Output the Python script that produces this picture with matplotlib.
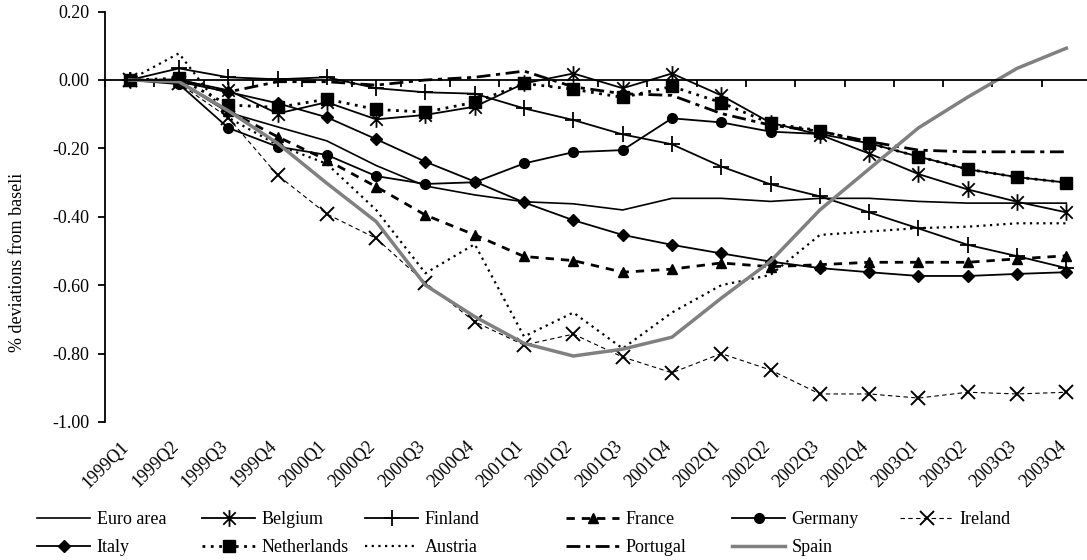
import numpy as np
import matplotlib.pyplot as plt
from matplotlib.path import Path
from matplotlib.transforms import blended_transform_factory, ScaledTranslation

plt.rcParams['font.family'] = ['Liberation Serif', 'DejaVu Serif']

quarters = ["1999Q1", "1999Q2", "1999Q3", "1999Q4", "2000Q1", "2000Q2", "2000Q3", "2000Q4",
            "2001Q1", "2001Q2", "2001Q3", "2001Q4", "2002Q1", "2002Q2", "2002Q3", "2002Q4",
            "2003Q1", "2003Q2", "2003Q3", "2003Q4"]

euro_area = [0, -0.005, -0.095, -0.137, -0.178, -0.25, -0.31, -0.336, -0.356, -0.362,
             -0.38, -0.346, -0.346, -0.355, -0.346, -0.346, -0.355, -0.36, -0.36, -0.36]
belgium = [0, 0.0, -0.03, -0.098, -0.065, -0.115, -0.102, -0.078, -0.01, 0.019,
           -0.024, 0.019, -0.045, -0.125, -0.16, -0.215, -0.275, -0.32, -0.356, -0.387]
finland = [0, 0.034, 0.008, 0.002, 0.008, -0.024, -0.036, -0.04, -0.083, -0.117,
           -0.159, -0.188, -0.253, -0.305, -0.34, -0.387, -0.434, -0.482, -0.515, -0.55]
france = [0, -0.005, -0.09, -0.166, -0.234, -0.312, -0.395, -0.453, -0.516, -0.528,
          -0.562, -0.553, -0.535, -0.546, -0.54, -0.533, -0.533, -0.533, -0.523, -0.514]
germany = [0, -0.012, -0.14, -0.195, -0.219, -0.281, -0.304, -0.299, -0.244, -0.211,
           -0.205, -0.112, -0.124, -0.151, -0.158, -0.185, -0.224, -0.261, -0.284, -0.30]
ireland = [0, -0.01, -0.11, -0.278, -0.392, -0.463, -0.593, -0.707, -0.775, -0.743,
           -0.81, -0.856, -0.80, -0.848, -0.918, -0.918, -0.93, -0.913, -0.918, -0.913]
italy = [0, -0.005, -0.035, -0.068, -0.109, -0.173, -0.239, -0.297, -0.358, -0.41,
         -0.453, -0.482, -0.507, -0.531, -0.55, -0.562, -0.573, -0.573, -0.567, -0.562]
netherlands = [0, 0.005, -0.073, -0.08, -0.056, -0.086, -0.094, -0.065, -0.01, -0.027,
               -0.051, -0.019, -0.066, -0.127, -0.148, -0.185, -0.224, -0.261, -0.284, -0.30]
austria = [0, 0.078, -0.11, -0.19, -0.245, -0.38, -0.565, -0.48, -0.75, -0.68,
           -0.785, -0.68, -0.60, -0.57, -0.453, -0.443, -0.433, -0.429, -0.419, -0.419]
portugal = [0, 0.0, -0.035, -0.005, -0.005, -0.015, 0.0, 0.008, 0.026, -0.02,
            -0.04, -0.045, -0.098, -0.132, -0.15, -0.18, -0.205, -0.21, -0.21, -0.21]
spain = [0, -0.005, -0.09, -0.185, -0.302, -0.414, -0.60, -0.692, -0.77, -0.807,
         -0.787, -0.752, -0.638, -0.53, -0.38, -0.26, -0.14, -0.05, 0.034, 0.093]

yticks = [-1.0, -0.8, -0.6, -0.4, -0.2, 0.0, 0.2]

# excel style star: vertical bar plus an x
star = Path([(0, -1), (0, 1), (-0.75, -0.75), (0.75, 0.75), (-0.75, 0.75), (0.75, -0.75)],
            [Path.MOVETO, Path.LINETO] * 3)

W, H = 1087, 560
fig = plt.figure(figsize=(W / 100, H / 100), dpi=100)
ax = fig.add_axes([105 / W, 1 - 422 / H, (1091 - 105) / W, (422 - 11.6) / H])

x = np.arange(len(quarters))
lines = {}
lines["Euro area"], = ax.plot(x, euro_area, color='k', lw=1.2)
lines["Belgium"], = ax.plot(x, belgium, color='k', lw=1.3, marker=star, ms=12, mfc='none', mec='k', mew=1.3)
lines["Finland"], = ax.plot(x, finland, color='k', lw=1.3, marker='+', ms=12, mew=1.3)
lines["France"], = ax.plot(x, france, color='k', lw=2, ls=(0, (3, 2.5)), marker='^', ms=6.5)
lines["Germany"], = ax.plot(x, germany, color='k', lw=1.3, marker='o', ms=7)
lines["Ireland"], = ax.plot(x, ireland, color='k', lw=0.8, ls=(0, (4, 3)), marker='x', ms=10, mew=1.4)
lines["Italy"], = ax.plot(x, italy, color='k', lw=1.3, marker='D', ms=6.5)
lines["Netherlands"], = ax.plot(x, netherlands, color='k', lw=2, ls=(0, (1, 2)), marker='s', ms=8)
lines["Austria"], = ax.plot(x, austria, color='k', lw=1.6, ls=(0, (1, 2)))
lines["Portugal"], = ax.plot(x, portugal, color='k', lw=2, ls=(0, (5, 2, 1.5, 2)))
lines["Spain"], = ax.plot(x, spain, color='#808080', lw=2.5)

ax.set_xlim(-0.5, len(quarters) - 0.5)
ax.set_ylim(-1.0, 0.2)

for s in ['top', 'right']:
    ax.spines[s].set_visible(False)
ax.spines['left'].set_linewidth(1.3)
ax.spines['bottom'].set_position(('data', 0))
ax.spines['bottom'].set_linewidth(1.3)

ax.set_yticks(yticks)
ax.set_yticklabels(["0.00" if abs(v) < 1e-9 else f"{v:.2f}" for v in yticks], fontsize=13)
ax.tick_params(axis='y', direction='out', length=5, width=1.3, pad=6)

ax.set_xticks(x)
ax.set_xticklabels([])
ax.set_xticks(np.arange(len(quarters) + 1) - 0.5, minor=True)
ax.tick_params(axis='x', which='major', length=0)
ax.tick_params(axis='x', which='minor', direction='out', length=5, width=1.3)

tr = blended_transform_factory(ax.transData, ax.transAxes) + \
    ScaledTranslation(-9 / 100, -16 / 100, fig.dpi_scale_trans)
for i, q in enumerate(quarters):
    ax.text(i, 0, q, transform=tr, rotation=45, ha='right', va='top',
            rotation_mode='anchor', fontsize=13)

ax.set_ylabel("% deviations from baseli", fontsize=13)
ax.yaxis.set_label_coords(-79 / (1091 - 105), (422 - 262) / (422 - 11.6))

legend_cols = [["Euro area", "Italy"], ["Belgium", "Netherlands"], ["Finland", "Austria"],
               ["France", "Portugal"], ["Germany", "Spain"], ["Ireland"]]
legend_x = [37, 202, 365, 566, 732, 900]
for names, lx in zip(legend_cols, legend_x):
    fig.legend([lines[n] for n in names], names, loc='upper left',
               bbox_to_anchor=(lx / W, 1 - 511 / H), frameon=False, fontsize=13,
               borderpad=0, borderaxespad=0, handlelength=2.95, handletextpad=0.35,
               labelspacing=0.62, markerscale=1.0)

fig.savefig("out.png", dpi=100)
